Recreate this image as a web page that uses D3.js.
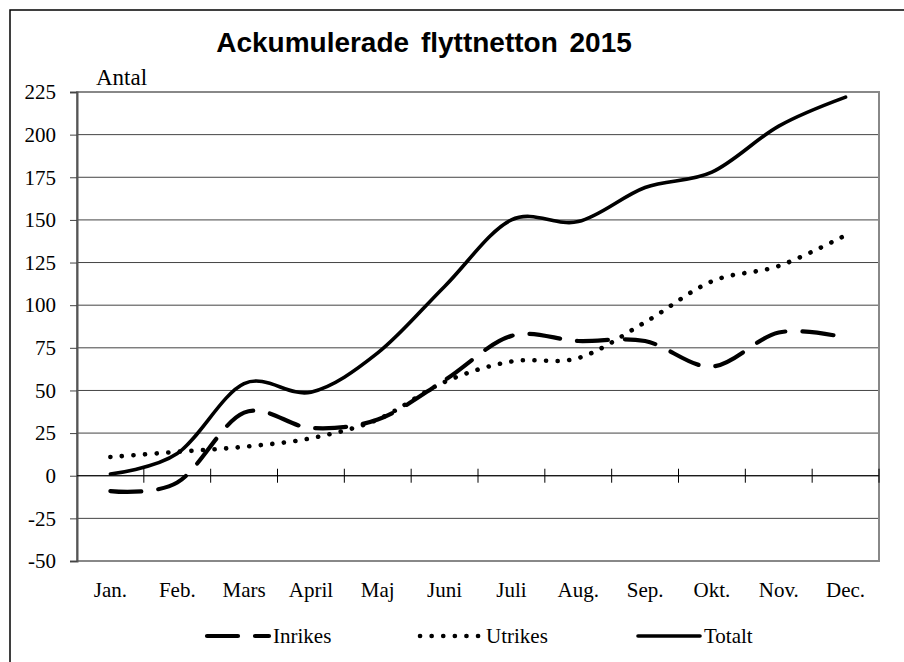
<!DOCTYPE html>
<html>
<head>
<meta charset="utf-8">
<script src="https://cdn.jsdelivr.net/npm/d3@7"></script>
<style>
  body { margin: 0; background: #fff; }
  svg { display: block; }
  .serif { font-family: "Liberation Serif", "DejaVu Serif", "Times New Roman", serif; }
  .title { font-family: "Liberation Sans", Arial, sans-serif; font-weight: bold; }
</style>
</head>
<body>
<div id="chart"></div>
<script>
// Data
const months = ["Jan.", "Feb.", "Mars", "April", "Maj", "Juni", "Juli", "Aug.", "Sep.", "Okt.", "Nov.", "Dec."];
const inrikes = [-9, -4, 37, 28, 33, 56, 82, 79, 79, 64, 84, 81];
const utrikes = [11, 14, 17, 22, 33, 55, 67, 69, 90, 114, 123, 141];
const totalt = [1, 13, 54, 49, 72, 111, 150, 149, 169, 178, 205, 222];
const yTicks = [-50, -25, 0, 25, 50, 75, 100, 125, 150, 175, 200, 225];

const width = 904, height = 662;
const margin = { top: 92, right: 25, bottom: 101, left: 77 };

const svg = d3.select("#chart").append("svg")
  .attr("width", width)
  .attr("height", height);

// outer frame (only left and top visible in the picture)
svg.append("rect")
  .attr("x", 10).attr("y", 10)
  .attr("width", 1000).attr("height", 1000)
  .attr("fill", "none")
  .attr("stroke", "#000")
  .attr("stroke-width", 1.5);

const x = d3.scaleBand()
  .domain(months)
  .range([margin.left, width - margin.right]);

const y = d3.scaleLinear()
  .domain([-50, 225])
  .range([height - margin.bottom, margin.top]);

// horizontal gridlines
svg.append("g")
  .selectAll("line")
  .data(yTicks)
  .enter().append("line")
  .attr("x1", margin.left)
  .attr("x2", width - margin.right)
  .attr("y1", d => y(d))
  .attr("y2", d => y(d))
  .attr("stroke", "#444")
  .attr("stroke-width", 1);

// plot area border
svg.append("rect")
  .attr("x", margin.left)
  .attr("y", margin.top)
  .attr("width", width - margin.left - margin.right)
  .attr("height", height - margin.top - margin.bottom)
  .attr("fill", "none")
  .attr("stroke", "#888")
  .attr("stroke-width", 2);

// y axis
const yAxis = svg.append("g")
  .attr("transform", `translate(${margin.left},0)`)
  .call(d3.axisLeft(y).tickValues(yTicks).tickSize(7).tickPadding(14).tickFormat(d => String(d)));
yAxis.attr("font-family", null).attr("font-size", null);
yAxis.select(".domain").attr("stroke", "#555").attr("stroke-width", 2);
yAxis.selectAll(".tick line").attr("stroke", "#444");
yAxis.selectAll("text")
  .attr("class", "serif")
  .style("font-size", "21px")
  .attr("fill", "#000");

// x axis at zero with crossing tick marks at category boundaries
svg.append("line")
  .attr("x1", margin.left)
  .attr("x2", width - margin.right)
  .attr("y1", y(0))
  .attr("y2", y(0))
  .attr("stroke", "#000")
  .attr("stroke-width", 1.2);

svg.append("g")
  .selectAll("line")
  .data(months.slice(1).concat(["end"]))
  .enter().append("line")
  .attr("x1", (d, i) => i < months.length - 1 ? x(d) : width - margin.right)
  .attr("x2", (d, i) => i < months.length - 1 ? x(d) : width - margin.right)
  .attr("y1", y(0) - 7)
  .attr("y2", y(0) + 7)
  .attr("stroke", "#000")
  .attr("stroke-width", 1);

// category labels
svg.append("g")
  .selectAll("text")
  .data(months)
  .enter().append("text")
  .attr("class", "serif")
  .attr("x", d => x(d) + x.bandwidth() / 2)
  .attr("y", 597)
  .attr("text-anchor", "middle")
  .style("font-size", "21px")
  .text(d => d);

// title and axis label
svg.append("text")
  .attr("class", "title")
  .attr("x", 424)
  .attr("y", 52)
  .attr("text-anchor", "middle")
  .style("font-size", "28px")
  .style("word-spacing", "4px")
  .text("Ackumulerade flyttnetton 2015");

svg.append("text")
  .attr("class", "serif")
  .attr("x", 96)
  .attr("y", 85)
  .style("font-size", "23px")
  .text("Antal");

// series
const series = [
  { name: "Inrikes", values: inrikes, dash: "31,17", width: 4.2, legendX: 207 },
  { name: "Utrikes", values: utrikes, dash: "0.1,11.5", width: 4.6, legendX: 420 },
  { name: "Totalt", values: totalt, dash: null, width: 3.6, legendX: 638 }
];

const line = d3.line()
  .x((d, i) => x(months[i]) + x.bandwidth() / 2)
  .y(d => y(d))
  .curve(d3.curveCatmullRom.alpha(0));

svg.append("g")
  .selectAll("path")
  .data(series)
  .enter().append("path")
  .attr("d", d => line(d.values))
  .attr("fill", "none")
  .attr("stroke", "#000")
  .attr("stroke-width", d => d.width)
  .attr("stroke-linecap", "round")
  .attr("stroke-dasharray", d => d.dash);

// legend
const legend = svg.append("g")
  .selectAll("g")
  .data(series)
  .enter().append("g");

legend.append("line")
  .attr("x1", d => d.legendX)
  .attr("x2", d => d.legendX + 62)
  .attr("y1", 636)
  .attr("y2", 636)
  .attr("stroke", "#000")
  .attr("stroke-width", d => d.width)
  .attr("stroke-linecap", "round")
  .attr("stroke-dasharray", d => d.dash);

legend.append("text")
  .attr("class", "serif")
  .attr("x", d => d.legendX + 66)
  .attr("y", 643)
  .style("font-size", "21px")
  .text(d => d.name);
</script>
</body>
</html>
